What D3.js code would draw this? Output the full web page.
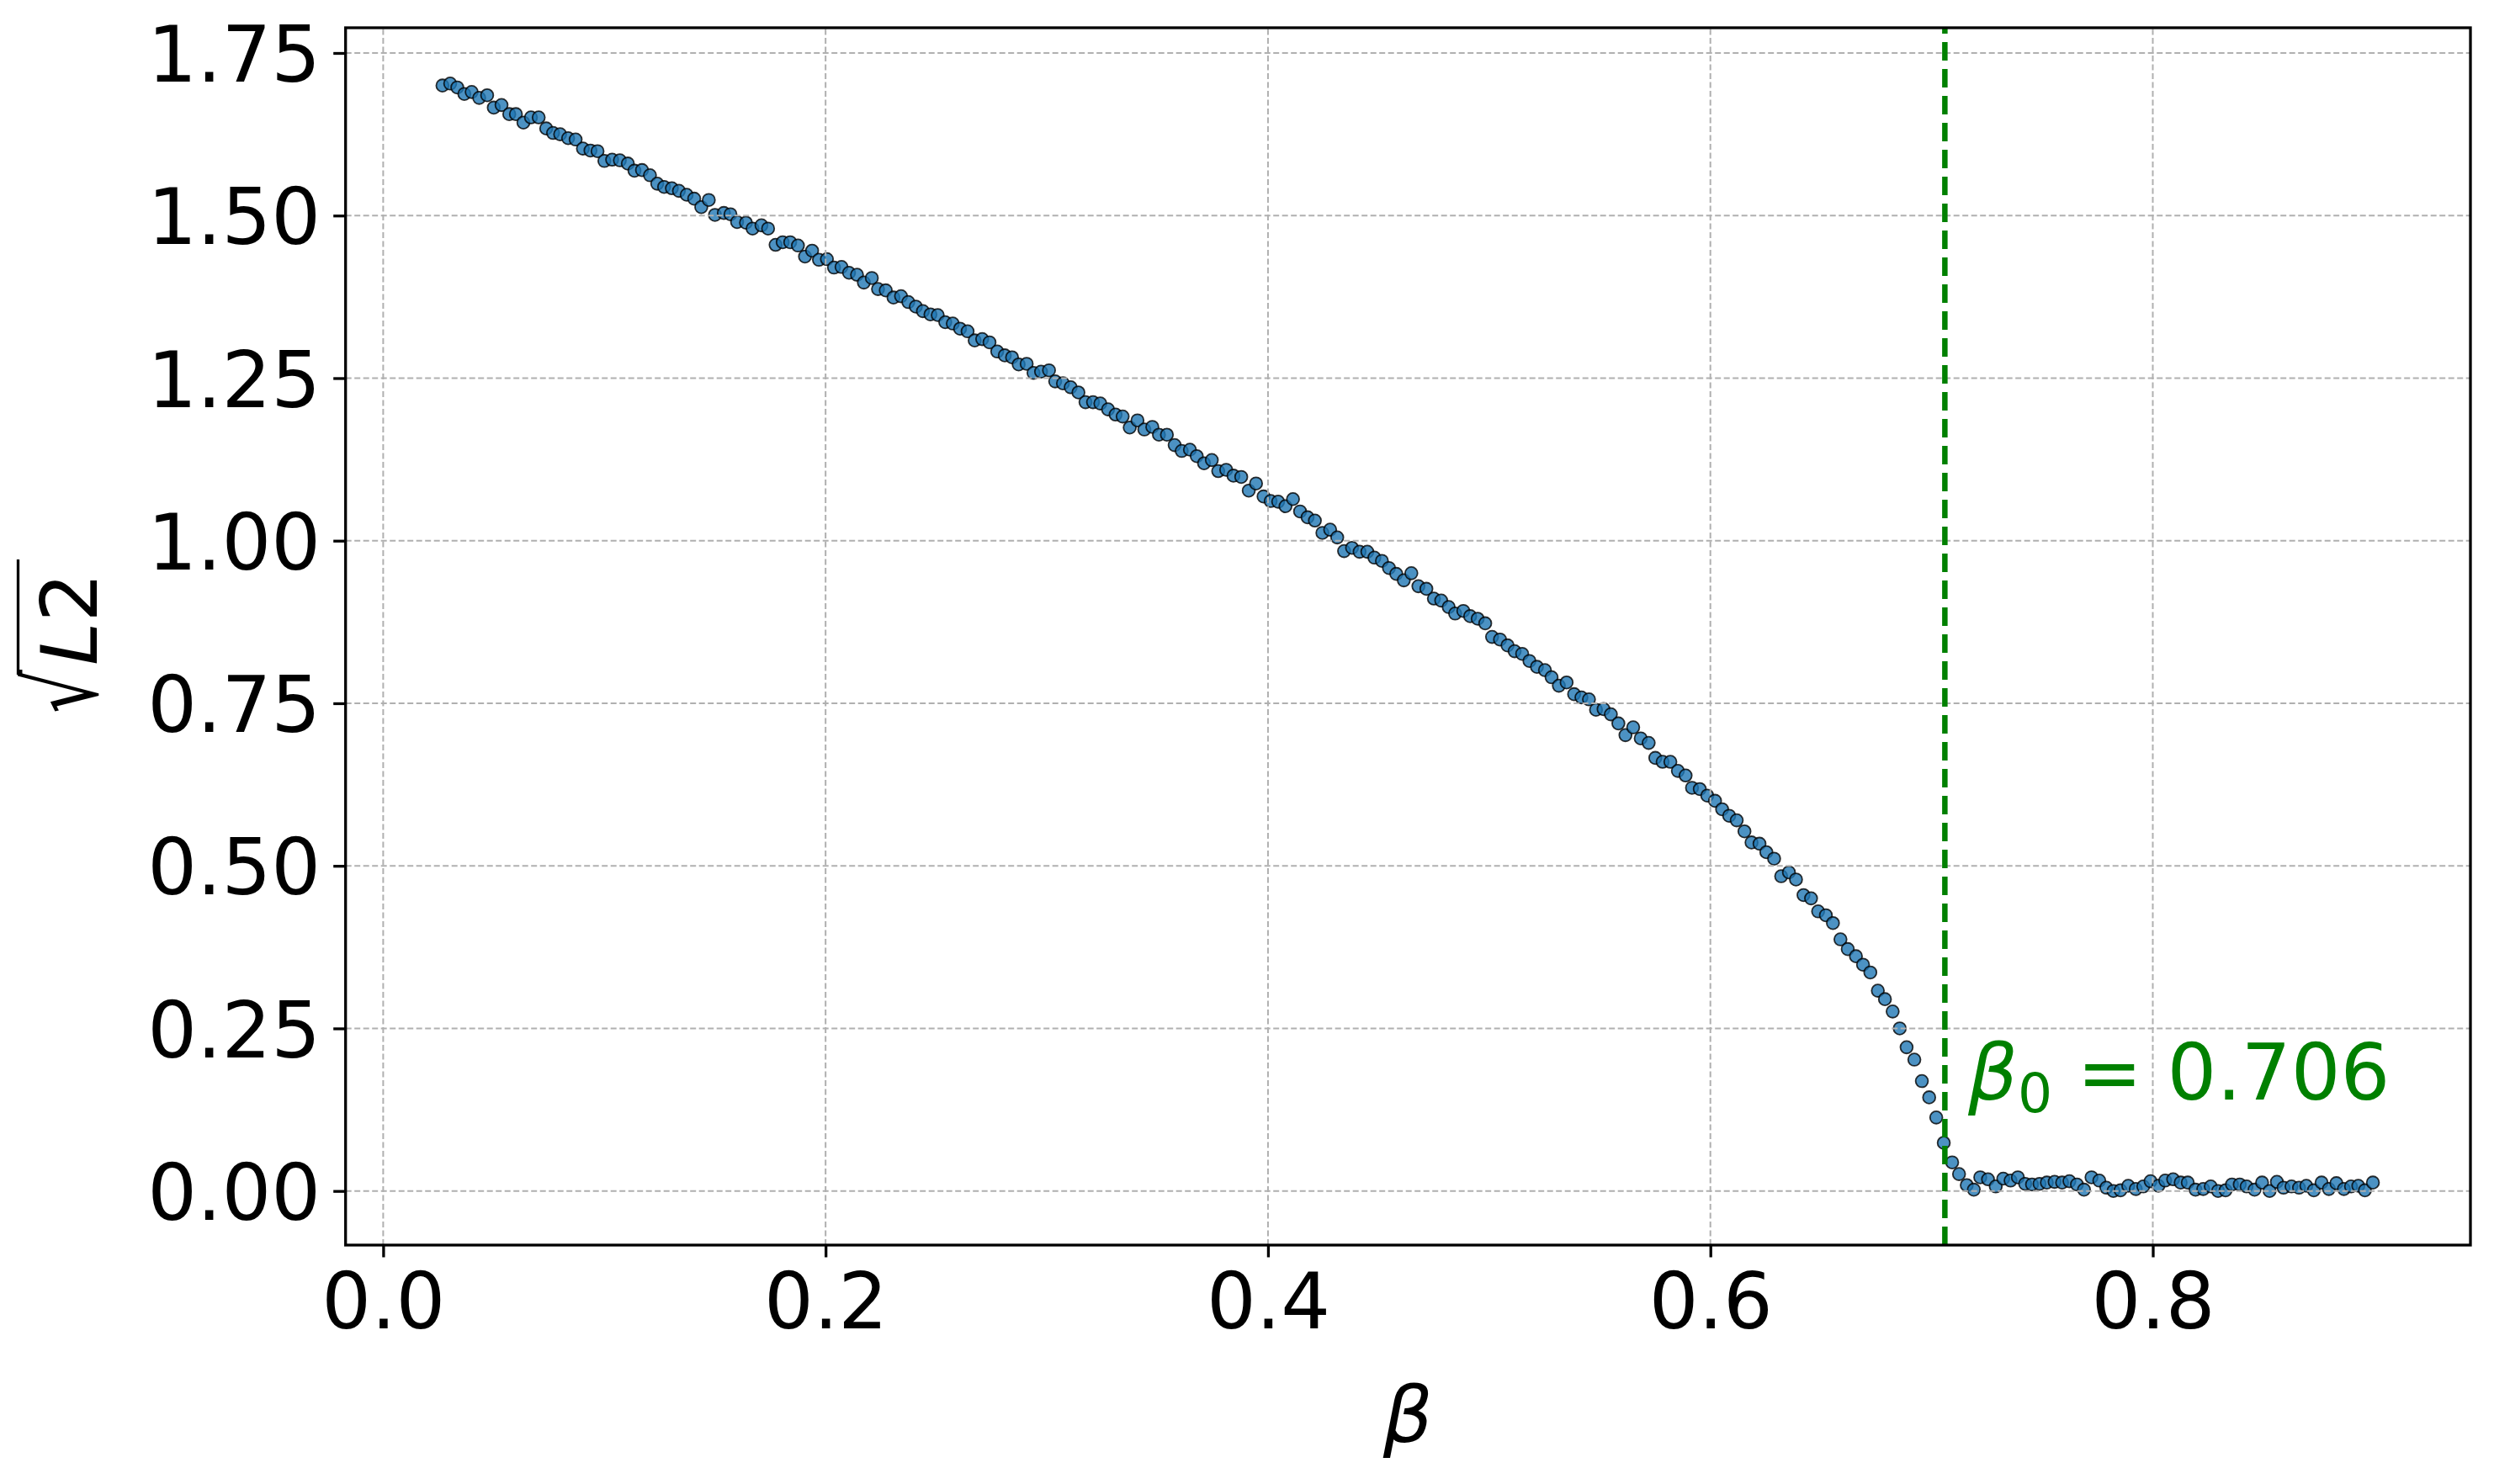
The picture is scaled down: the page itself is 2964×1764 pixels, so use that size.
<!DOCTYPE html>
<html>
<head>
<meta charset="utf-8">
<script src="https://cdn.jsdelivr.net/npm/d3@7"></script>
<style>
html,body{margin:0;padding:0;background:#ffffff;}
svg{display:block;font-family:"DejaVu Sans",sans-serif;}
</style>
</head>
<body>
<svg id="chart" width="2964" height="1764"></svg>
<script>
// ---------------- data ----------------
const betaValues = [
0.0268,0.0303,0.0335,0.0367,0.0400,0.0434,0.0470,0.0500,0.0535,0.0570,0.0600,0.0634,0.0668,0.0703,0.0737,0.0768,0.0800,0.0836,0.0870,0.0903,
0.0937,0.0969,0.1000,0.1035,0.1070,0.1106,0.1136,0.1170,0.1206,0.1239,0.1270,0.1305,0.1337,0.1372,0.1406,0.1438,0.1472,0.1500,0.1540,0.1570,
0.1600,0.1640,0.1670,0.1710,0.1740,0.1774,0.1806,0.1840,0.1875,0.1907,0.1939,0.1970,
0.2006,0.2038,0.2072,0.2106,0.2142,0.2173,0.2209,0.2237,0.2272,0.2307,0.2341,0.2374,0.2408,0.2440,0.2474,0.2507,0.2541,0.2575,0.2608,0.2642,
0.2674,0.2708,0.2741,0.2776,0.2810,0.2843,0.2873,0.2909,0.2940,0.2974,0.3010,0.3038,0.3073,0.3108,0.3143,0.3175,0.3209,0.3242,0.3277,0.3311,
0.3343,0.3375,0.3410,0.3441,0.3477,0.3507,0.3543,0.3578,0.3610,0.3647,0.3678,0.3711,0.3746,0.3775,
0.3811,0.3844,0.3879,0.3913,0.3946,0.3980,0.4012,0.4046,0.4079,0.4113,0.4145,0.4179,0.4212,0.4246,0.4281,0.4313,0.4344,0.4380,0.4414,0.4449,
0.4481,0.4515,0.4547,0.4580,0.4614,0.4648,0.4680,0.4716,0.4750,0.4783,0.4817,0.4846,0.4883,0.4914,0.4948,0.4982,0.5013,0.5049,0.5083,0.5115,
0.5149,0.5182,0.5216,0.5252,0.5282,0.5315,0.5350,0.5384,0.5417,0.5451,0.5483,0.5517,0.5550,
0.5584,0.5616,0.5651,0.5685,0.5721,0.5751,0.5784,0.5819,0.5853,0.5888,0.5917,0.5952,0.5986,0.6021,0.6053,0.6085,0.6119,0.6154,0.6186,0.6222,
0.6253,0.6288,0.6320,0.6355,0.6387,0.6421,0.6455,0.6487,0.6522,0.6554,0.6588,0.6621,0.6658,0.6690,0.6723,0.6757,0.6789,0.6824,0.6856,0.6887,
0.6922,0.6956,0.6989,0.7021,0.7055,
0.7093,0.7124,0.7159,0.7191,0.7220,0.7255,0.7290,0.7324,0.7357,0.7390,0.7423,0.7454,0.7488,0.7521,0.7556,0.7590,0.7623,0.7657,0.7689,0.7723,
0.7758,0.7790,0.7822,0.7854,0.7889,0.7923,0.7957,0.7990,0.8025,0.8056,
0.8092,0.8126,0.8158,0.8193,0.8228,0.8262,0.8295,0.8329,0.8358,0.8393,0.8424,0.8460,0.8494,0.8528,0.8561,0.8591,0.8627,0.8661,0.8694,0.8728,
0.8763,0.8796,0.8830,0.8864,0.8896,0.8929,0.8959,0.8995
];
const sqrtL2Values = [
1.700,1.703,1.697,1.687,1.690,1.681,1.685,1.666,1.670,1.656,1.656,1.643,1.651,1.651,1.634,1.627,1.625,1.619,1.617,1.603,
1.600,1.599,1.584,1.586,1.585,1.580,1.569,1.570,1.562,1.549,1.544,1.542,1.538,1.532,1.526,1.513,1.524,1.501,1.504,1.502,
1.490,1.489,1.480,1.485,1.480,1.455,1.459,1.459,1.454,1.437,1.446,1.432,
1.433,1.420,1.421,1.412,1.409,1.397,1.404,1.387,1.385,1.374,1.376,1.367,1.360,1.353,1.348,1.347,1.336,1.334,1.326,1.322,
1.308,1.310,1.305,1.291,1.285,1.282,1.271,1.272,1.258,1.260,1.262,1.245,1.242,1.236,1.228,1.213,1.213,1.211,1.202,1.194,
1.191,1.174,1.185,1.171,1.175,1.163,1.163,1.147,1.138,1.140,1.130,1.119,1.124,1.107,
1.109,1.100,1.098,1.077,1.088,1.068,1.061,1.060,1.053,1.064,1.045,1.036,1.031,1.012,1.017,1.005,0.984,0.989,0.983,0.983,
0.974,0.969,0.958,0.949,0.939,0.950,0.930,0.926,0.911,0.908,0.898,0.888,0.892,0.884,0.880,0.873,0.852,0.848,0.839,0.830,
0.826,0.815,0.806,0.801,0.790,0.777,0.782,0.764,0.759,0.756,0.740,0.741,0.733,
0.719,0.701,0.713,0.696,0.689,0.666,0.660,0.660,0.646,0.639,0.620,0.618,0.608,0.600,0.587,0.577,0.570,0.553,0.536,0.534,
0.521,0.511,0.484,0.490,0.479,0.455,0.450,0.430,0.424,0.412,0.387,0.372,0.361,0.348,0.336,0.308,0.295,0.276,0.250,0.221,
0.202,0.169,0.144,0.113,0.074,
0.044,0.026,0.009,0.002,0.021,0.018,0.007,0.019,0.016,0.021,0.011,0.010,0.011,0.013,0.014,0.013,0.015,0.010,0.002,0.021,
0.016,0.005,0.000,0.001,0.008,0.003,0.007,0.015,0.008,0.016,
0.018,0.013,0.013,0.002,0.003,0.007,0.000,0.001,0.010,0.010,0.007,0.002,0.013,0.000,0.014,0.005,0.007,0.005,0.008,0.001,
0.013,0.003,0.012,0.003,0.007,0.008,0.001,0.013
];
const xTickValues = [0.0, 0.2, 0.4, 0.6, 0.8];
const xTickLabels = ["0.0", "0.2", "0.4", "0.6", "0.8"];
const yTickValues = [0.00, 0.25, 0.50, 0.75, 1.00, 1.25, 1.50, 1.75];
const yTickLabels = ["0.00", "0.25", "0.50", "0.75", "1.00", "1.25", "1.50", "1.75"];
const beta0 = 0.706;
const annotationBeta = 0.7165;
const annotationValue = 0.141;
const xLabel = "β";

// ---------------- layout ----------------
const plotLeft = 410.7, plotRight = 2936, plotTop = 33, plotBottom = 1480;
const fontSize = 92.5;
const svg = d3.select("#chart");

const x = d3.scaleLinear().domain([-0.0170, 0.9436]).range([plotLeft, plotRight]);
const y = d3.scaleLinear().domain([-0.0832, 1.7888]).range([plotBottom, plotTop]);

const points = betaValues.map((b, i) => ({b: b, v: sqrtL2Values[i]}));

// scatter
svg.append("g").selectAll("circle").data(points).join("circle")
  .attr("cx", d => x(d.b))
  .attr("cy", d => y(d.v))
  .attr("r", 7.4)
  .attr("fill", "#1f77b4").attr("fill-opacity", 0.8)
  .attr("stroke", "#000").attr("stroke-opacity", 0.8)
  .attr("stroke-width", 1.8);

// grid
const grid = svg.append("g").attr("stroke", "#b0b0b0").attr("stroke-width", 2)
  .attr("stroke-dasharray", "7,3.5").attr("fill", "none");
grid.selectAll("path.gy").data(yTickValues).join("path").attr("class", "gy")
  .attr("d", d => `M${plotLeft},${y(d)}H${plotRight}`);
grid.selectAll("path.gx").data(xTickValues).join("path").attr("class", "gx")
  .attr("d", d => `M${x(d)},${plotBottom}V${plotTop}`);

// beta0 vertical dashed line
svg.append("path")
  .attr("d", `M${x(beta0)},${plotBottom}V${plotTop}`)
  .attr("stroke", "#008000").attr("stroke-width", 6.5)
  .attr("stroke-dasharray", "22,10").attr("fill", "none");

// annotation
const ann = svg.append("text")
  .attr("x", x(annotationBeta)).attr("y", y(annotationValue))
  .attr("fill", "#008000").attr("font-size", fontSize);
ann.append("tspan").attr("font-style", "italic").text("β");
ann.append("tspan").attr("font-size", fontSize * 0.7).attr("dy", 15).text("0");
ann.append("tspan").attr("dy", -15).text(" = 0.706");

// axes
const xAxis = d3.axisBottom(x).tickValues(xTickValues)
  .tickFormat((d, i) => xTickLabels[i]).tickSize(14.5).tickPadding(15);
const yAxis = d3.axisLeft(y).tickValues(yTickValues)
  .tickFormat((d, i) => yTickLabels[i]).tickSize(14.5).tickPadding(15);

const gx = svg.append("g").attr("transform", `translate(0,${plotBottom})`).call(xAxis);
const gy = svg.append("g").attr("transform", `translate(${plotLeft},0)`).call(yAxis);
[gx, gy].forEach(g => {
  g.select(".domain").remove();
  g.selectAll(".tick line").attr("stroke", "#000").attr("stroke-width", 3.3);
  g.selectAll(".tick text").attr("fill", "#000").attr("font-size", fontSize)
    .attr("font-family", "DejaVu Sans, sans-serif");
});
gx.selectAll(".tick text").attr("dy", "0.756em");
gy.selectAll(".tick text").attr("dy", "0.3645em");

// frame
svg.append("rect")
  .attr("x", plotLeft).attr("y", plotTop)
  .attr("width", plotRight - plotLeft).attr("height", plotBottom - plotTop)
  .attr("fill", "none").attr("stroke", "#000").attr("stroke-width", 3.3);

// x label
svg.append("text")
  .attr("x", (plotLeft + plotRight) / 2).attr("y", 1714)
  .attr("text-anchor", "middle").attr("font-size", fontSize)
  .attr("font-style", "italic").attr("fill", "#000")
  .text(xLabel);

// y label: sqrt(L2) with a tall radical
const ctx = document.createElement("canvas").getContext("2d");
ctx.font = '100px "DejaVu Sans"';
const mm = ctx.measureText("√");
let ascR = mm.actualBoundingBoxAscent / 100;
if (!(ascR > 0.3 && ascR < 1.5)) ascR = 0.8;
const sqrtSize = 95 / ascR;
const x0 = -91.5;
const yl = svg.append("g").attr("transform", `translate(115,${(plotTop + plotBottom) / 2}) rotate(-90)`);
const ylt = yl.append("text").attr("y", 0).attr("font-size", fontSize).attr("fill", "#000");
ylt.append("tspan").attr("x", x0).attr("font-size", sqrtSize)
  .attr("textLength", 52).attr("lengthAdjust", "spacingAndGlyphs").text("√");
ylt.append("tspan").attr("x", x0 + 57).attr("font-style", "italic").text("L");
ylt.append("tspan").text("2");
yl.append("line")
  .attr("x1", x0 + 46).attr("x2", x0 + 183)
  .attr("y1", -93.5).attr("y2", -93.5)
  .attr("stroke", "#000").attr("stroke-width", 3.3);
</script>
</body>
</html>
